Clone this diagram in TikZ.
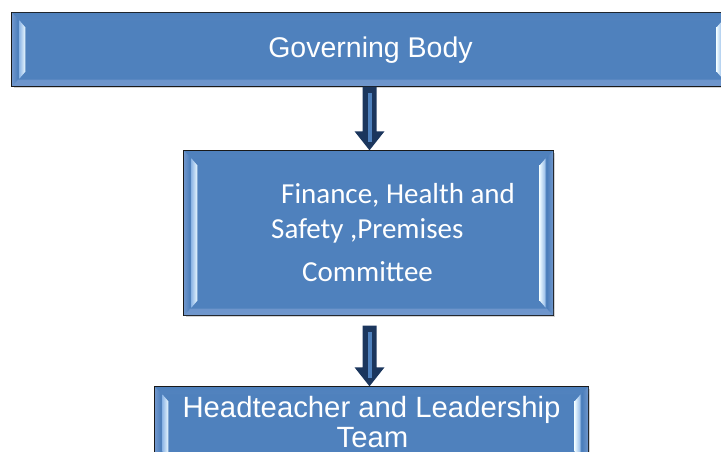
\documentclass[tikz,border=0pt]{standalone}
\usepackage{fontspec}
\setmainfont{Liberation Sans}
\newfontfamily\bodyfont{Carlito}
\usetikzlibrary{shadows,calc}

\definecolor{boxblue}{HTML}{4F81BD}
\definecolor{bevellight}{HTML}{9DB8DE}
\definecolor{bevelrim}{HTML}{6F96CC}
\definecolor{stripout}{HTML}{8FB7E6}
\definecolor{stripin}{HTML}{EAF8FF}
\definecolor{arrowdark}{HTML}{1B365D}

\tikzset{
  panel/.style={draw=black!90, line width=1.4pt, fill=boxblue,
    drop shadow={shadow xshift=2pt, shadow yshift=-2pt, opacity=0.35},
    inner sep=0pt},
  caption/.style={text=white, inner sep=0pt},
}

% bevelled rim and side highlights of a panel node
\newcommand\bevelpanel[1]{%
  \path let \p1=(#1.north west), \p2=(#1.south east) in
    [top color=bevellight, bottom color=boxblue]
      (\x1+0.7pt,\y1-0.7pt) rectangle (\x2-0.7pt,\y1-8pt)
    [shade, top color=boxblue, bottom color=bevelrim]
      (\x1+0.7pt,\y2+7pt) rectangle (\x2-0.7pt,\y2+0.7pt);
  \shade[left color=bevelrim, right color=boxblue]
    let \p1=(#1.north west), \p2=(#1.south east) in
      (\x1+0.7pt,\y1-0.7pt) -- (\x1+6pt,\y1-6pt) -- (\x1+6pt,\y2+6pt)
      -- (\x1+0.7pt,\y2+0.7pt) -- cycle;
  \shade[left color=boxblue, right color=bevelrim]
    let \p1=(#1.north west), \p2=(#1.south east) in
      (\x2-0.7pt,\y1-0.7pt) -- (\x2-6pt,\y1-6pt) -- (\x2-6pt,\y2+6pt)
      -- (\x2-0.7pt,\y2+0.7pt) -- cycle;
  \shade[left color=stripout, right color=stripin]
    let \p1=(#1.north west), \p2=(#1.south east) in
      (\x1+8pt,\y1-8pt) -- (\x1+14pt,\y1-15pt) -- (\x1+14pt,\y2+15pt)
      -- (\x1+8pt,\y2+8pt) -- cycle;
  \shade[left color=stripin, right color=stripout]
    let \p1=(#1.north west), \p2=(#1.south east) in
      (\x2-8pt,\y1-8pt) -- (\x2-14pt,\y1-15pt) -- (\x2-14pt,\y2+15pt)
      -- (\x2-8pt,\y2+8pt) -- cycle;
}

% thick downward block arrow with a light stripe in its shaft
\newcommand\blockarrow[2]{%
  \fill[arrowdark] let \p1=(#1), \p2=(#2) in
    (\x1-7pt,\y1) -- (\x1+7pt,\y1) -- (\x1+7pt,\y2+19pt) -- (\x1+15pt,\y2+19pt)
    -- (\x1,\y2) -- (\x1-15pt,\y2+19pt) -- (\x1-7pt,\y2+19pt) -- cycle;
  \fill[boxblue] let \p1=(#1), \p2=(#2) in
    (\x1-2pt,\y1-6pt) rectangle (\x1+2pt,\y2+8pt);
}

\begin{document}
\begin{tikzpicture}[x=1pt,y=-1pt]
\useasboundingbox (0,0) rectangle (721,452);

% panels
\node[panel, minimum width=718, minimum height=73] (gov) at (371,49.5) {};
\node[panel, minimum width=369, minimum height=164] (fin) at (368.5,233) {};
\node[panel, minimum width=433, minimum height=80] (lead) at (371.5,427) {};
\bevelpanel{gov}
\bevelpanel{fin}
\bevelpanel{lead}

% captions
\node[caption, anchor=base, font=\fontsize{28.5}{30}\selectfont]
  (govtext) at (370.5,58) {Governing Body};
\node[caption, anchor=base west, font=\bodyfont\fontsize{29}{30}\selectfont]
  (fin1) at (281,203) {Finance, Health and};
\node[caption, anchor=base west, font=\bodyfont\fontsize{29}{30}\selectfont]
  (fin2) at (271,238) {Safety ,Premises};
\node[caption, anchor=base west, font=\bodyfont\fontsize{29}{30}\selectfont]
  (fin3) at (302,281) {Committee};
\node[caption, anchor=base, font=\fontsize{29.3}{30}\selectfont]
  (lead1) at (371.5,417) {Headteacher and Leadership};
\node[caption, anchor=base, font=\fontsize{29.3}{30}\selectfont]
  (lead2) at (372.5,447) {Team};

% connectors
\coordinate (a1top) at ($(fin.north |- gov.south)+(1,0)$);
\coordinate (a1tip) at ($(fin.north)+(1,0)$);
\coordinate (a2top) at ($(fin.south)+(1,10)$);
\coordinate (a2tip) at ($(fin.south |- lead.north)+(1,0)$);
\blockarrow{a1top}{a1tip}
\blockarrow{a2top}{a2tip}
\end{tikzpicture}
\end{document}
